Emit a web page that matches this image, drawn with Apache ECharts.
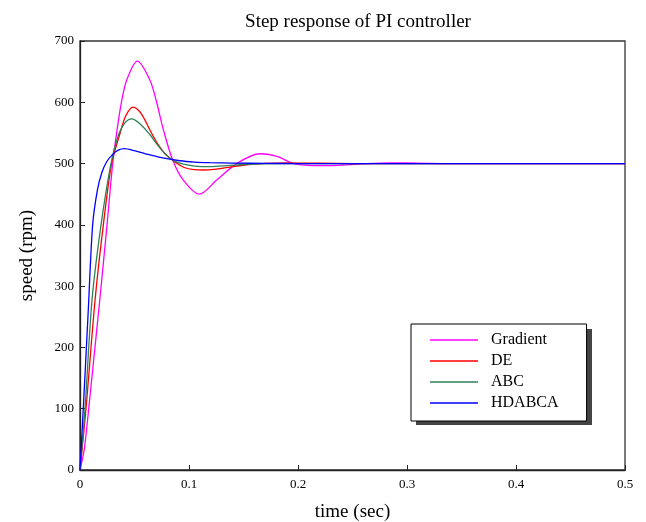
<!DOCTYPE html>
<html>
<head>
<meta charset="utf-8">
<title>Step response of PI controller</title>
<script src="https://cdn.jsdelivr.net/npm/echarts@6/dist/echarts.min.js"></script>
<style>
  html, body { margin: 0; padding: 0; background: #fff; overflow: hidden; }
  #chart { width: 646px; height: 522px; }
</style>
</head>
<body>
<div id="chart"></div>
<script>
// values: time (sec) and speed (rpm)
const gradientT = [0, 0.004, 0.008, 0.012, 0.018, 0.0248, 0.03, 0.034, 0.038, 0.0428, 0.0526, 0.0642, 0.0703, 0.0765, 0.085, 0.0948, 0.1095, 0.1254, 0.1437, 0.165, 0.18, 0.196, 0.21, 0.226, 0.245, 0.263, 0.285, 0.31, 0.34, 0.5]
const gradientV = [0, 35, 100, 170, 275, 400, 500, 555, 600, 636, 667, 636, 600, 555, 506, 473, 450, 473, 500, 516, 512, 500, 497, 496.5, 498, 500, 501.2, 500.8, 500, 500]

const deT = [0, 0.0055, 0.0138, 0.0214, 0.029, 0.0367, 0.042, 0.0489, 0.056, 0.0658, 0.072, 0.078, 0.0856, 0.095, 0.105, 0.113, 0.125, 0.14, 0.155, 0.17, 0.19, 0.22, 0.25, 0.5]
const deV = [0, 100, 277, 400, 500, 549, 578, 592, 582, 549, 530, 516, 504.5, 494, 490, 489.5, 491, 495, 498.5, 500.4, 501, 500.5, 500, 500]

const abcT = [0, 0.0046, 0.011, 0.0193, 0.0284, 0.035, 0.041, 0.0474, 0.055, 0.0642, 0.07, 0.078, 0.0856, 0.095, 0.105, 0.119, 0.135, 0.15, 0.17, 0.2, 0.5]
const abcV = [0, 100, 277, 400, 500, 545, 566, 573, 565, 547, 533, 516, 505, 499, 496, 495, 496.5, 498.5, 499.6, 500, 500]

const hdabcaT = [0, 0.003, 0.0076, 0.0116, 0.016, 0.02, 0.0245, 0.03, 0.035, 0.0407, 0.05, 0.06, 0.0734, 0.0917, 0.105, 0.119, 0.14, 0.17, 0.2, 0.5]
const hdabcaV = [0, 100, 261, 400, 457, 485, 503, 515, 522, 524.5, 521, 516, 510, 504.6, 502.5, 501.5, 500.8, 500.3, 500, 500]

const seriesNames = ['Gradient', 'DE', 'ABC', 'HDABCA']
const seriesColors = ['#ff00ff', '#ff0000', '#2e8057', '#0000ff']
const xTicks = [0, 0.5, 0.1]
const yTicks = [0, 700, 100]

function zip(t, v) {
  return t.map(function(x, i) { return [x, v[i]] })
}

const allData = [zip(gradientT, gradientV), zip(deT, deV), zip(abcT, abcV), zip(hdabcaT, hdabcaV)]

const font = 'Liberation Serif'
const chart = echarts.init(document.getElementById('chart'))

const series = []
for (let i = 0; i < seriesNames.length; i++) {
  series.push({
    name: seriesNames[i],
    type: 'line',
    data: allData[i],
    symbol: 'none',
    smooth: 0.3,
    lineStyle: { color: seriesColors[i], width: 1.3 },
    itemStyle: { color: seriesColors[i] }
  })
}

chart.setOption({
  backgroundColor: '#fff',
  animation: false,
  title: {
    text: 'Step response of PI controller',
    left: 353,
    textAlign: 'center',
    top: 8,
    textStyle: { fontFamily: font, fontSize: 19, fontWeight: 'normal', color: '#000' }
  },
  // drop shadow of the legend box
  graphic: [{
    type: 'rect',
    left: 416,
    top: 329,
    z: 1,
    shape: { width: 176, height: 96 },
    style: { fill: '#444' }
  }],
  legend: {
    orient: 'vertical',
    left: 411,
    top: 324,
    z: 10,
    padding: [8, 28, 10, 19],
    icon: 'rect',
    itemWidth: 48,
    itemHeight: 1.5,
    itemGap: 5,
    backgroundColor: '#fff',
    borderColor: '#000',
    borderWidth: 1,
    borderRadius: 0,
    textStyle: { fontFamily: font, fontSize: 16, color: '#000', padding: [0, 0, 0, 8], height: 16, lineHeight: 16 },
    data: seriesNames
  },
  grid: {
    left: 80,
    right: 21,
    top: 41,
    bottom: 52,
    show: true,
    borderColor: '#333',
    borderWidth: 1.3,
    containLabel: false,
    outerBoundsMode: 'none'
  },
  xAxis: {
    type: 'value',
    min: xTicks[0],
    max: xTicks[1],
    interval: xTicks[2],
    name: 'time (sec)',
    nameLocation: 'middle',
    nameGap: 33,
    nameTextStyle: { fontFamily: font, fontSize: 19, color: '#000' },
    axisLine: { lineStyle: { color: '#222', width: 1.3 } },
    axisTick: { inside: true, length: 5, lineStyle: { color: '#222' } },
    axisLabel: { fontFamily: font, fontSize: 13, color: '#000', margin: 8 },
    splitLine: { show: false }
  },
  yAxis: {
    type: 'value',
    min: yTicks[0],
    max: yTicks[1],
    interval: yTicks[2],
    name: 'speed (rpm)',
    nameLocation: 'middle',
    nameGap: 43,
    nameRotate: 90,
    nameTextStyle: { fontFamily: font, fontSize: 19, color: '#000' },
    axisLine: { lineStyle: { color: '#222', width: 1.3 } },
    axisTick: { inside: true, length: 5, lineStyle: { color: '#222' } },
    axisLabel: { fontFamily: font, fontSize: 13, color: '#000', margin: 6 },
    splitLine: { show: false }
  },
  series: series
})
</script>
</body>
</html>
